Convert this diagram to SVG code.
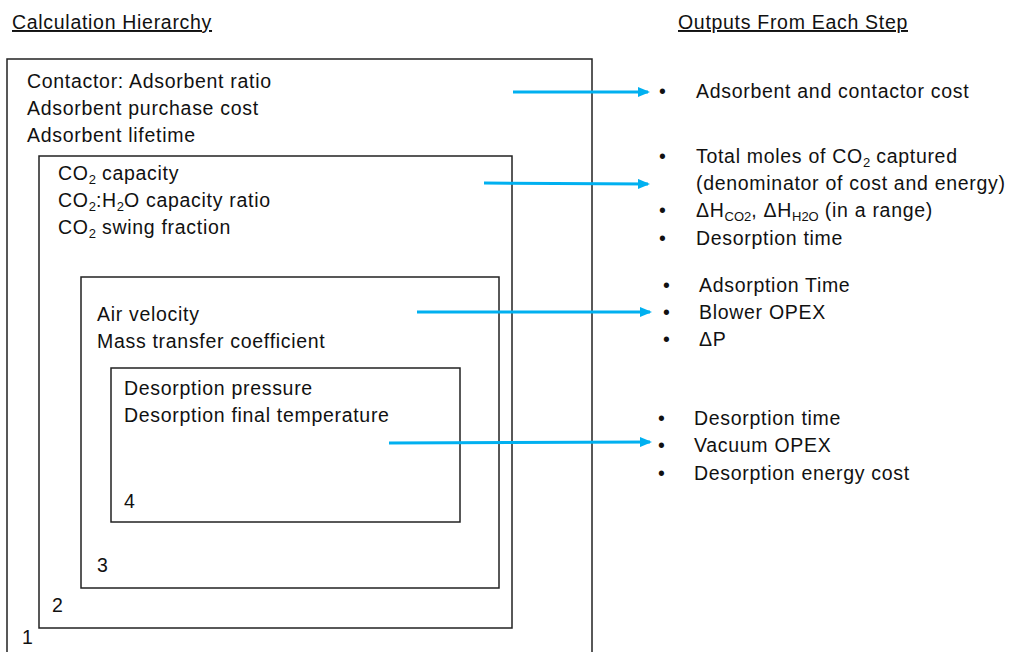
<svg xmlns="http://www.w3.org/2000/svg" width="1009" height="652" viewBox="0 0 1009 652">
<style>
text{font-family:"Liberation Sans",Arial,sans-serif;font-size:19.5px;letter-spacing:0.7px;fill:#111}
.box{fill:none;stroke:#222;stroke-width:1.5}
.arr{stroke:#00B0F0;stroke-width:3;fill:none}
.sub{font-size:13px;letter-spacing:0}
.u{text-decoration:underline}
</style>
<defs>
<marker id="ah" markerWidth="12" markerHeight="10" refX="10" refY="5" orient="auto" markerUnits="userSpaceOnUse">
<path d="M0,0 L12,5 L0,10 z" fill="#00B0F0"/>
</marker>
</defs>
<rect width="1009" height="652" fill="#fff"/>
<text x="12" y="29" class="u">Calculation Hierarchy</text>
<text x="678" y="29" class="u">Outputs From Each Step</text>
<g id="box1">
<rect class="box" x="7" y="59" width="585" height="610"/>
<text x="27" y="88">Contactor:<tspan dx="5">Adsorbent ratio</tspan></text>
<text x="27" y="115">Adsorbent purchase cost</text>
<text x="27" y="142">Adsorbent lifetime</text>
<text x="22" y="644">1</text>
</g>
<g id="box2">
<rect class="box" x="39" y="156" width="473" height="472"/>
<text x="58" y="180">CO<tspan class="sub" dy="4">2</tspan><tspan dy="-4"> capacity</tspan></text>
<text x="58" y="207">CO<tspan class="sub" dy="4">2</tspan><tspan dy="-4">:H</tspan><tspan class="sub" dy="4">2</tspan><tspan dy="-4">O capacity ratio</tspan></text>
<text x="58" y="234">CO<tspan class="sub" dy="4">2</tspan><tspan dy="-4"> swing fraction</tspan></text>
<text x="52" y="612">2</text>
</g>
<g id="box3">
<rect class="box" x="81" y="277" width="418" height="311"/>
<text x="97" y="321">Air velocity</text>
<text x="97" y="348">Mass transfer coefficient</text>
<text x="97" y="572">3</text>
</g>
<g id="box4">
<rect class="box" x="111" y="368" width="349" height="154"/>
<text x="124" y="395">Desorption pressure</text>
<text x="124" y="422">Desorption final temperature</text>
<text x="124" y="508">4</text>
</g>
<g id="connectors">
<line class="arr" x1="513" y1="92" x2="648" y2="92" marker-end="url(#ah)"/>
<line class="arr" x1="484" y1="183" x2="648" y2="184" marker-end="url(#ah)"/>
<line class="arr" x1="417" y1="312" x2="650" y2="312" marker-end="url(#ah)"/>
<line class="arr" x1="389" y1="443" x2="650" y2="442" marker-end="url(#ah)"/>
</g>
<g id="out1">
<text x="659" y="98">•</text>
<text x="696" y="98">Adsorbent and contactor cost</text>
</g>
<g id="out2">
<text x="659" y="163">•</text>
<text x="696" y="163">Total moles of CO<tspan class="sub" dy="4">2</tspan><tspan dy="-4"> captured</tspan></text>
<text x="696" y="190">(denominator of cost and energy)</text>
<text x="659" y="217">•</text>
<text x="696" y="217">ΔH<tspan class="sub" dy="4">CO2</tspan><tspan dy="-4">, ΔH</tspan><tspan class="sub" dy="4">H2O</tspan><tspan dy="-4"> (in a range)</tspan></text>
<text x="659" y="245">•</text>
<text x="696" y="245">Desorption time</text>
</g>
<g id="out3">
<text x="663" y="292">•</text>
<text x="699" y="292">Adsorption Time</text>
<text x="663" y="319">•</text>
<text x="699" y="319">Blower OPEX</text>
<text x="663" y="346">•</text>
<text x="699" y="346">ΔP</text>
</g>
<g id="out4">
<text x="658" y="425">•</text>
<text x="694" y="425">Desorption time</text>
<text x="658" y="452">•</text>
<text x="694" y="452">Vacuum OPEX</text>
<text x="658" y="480">•</text>
<text x="694" y="480">Desorption energy cost</text>
</g>
</svg>
